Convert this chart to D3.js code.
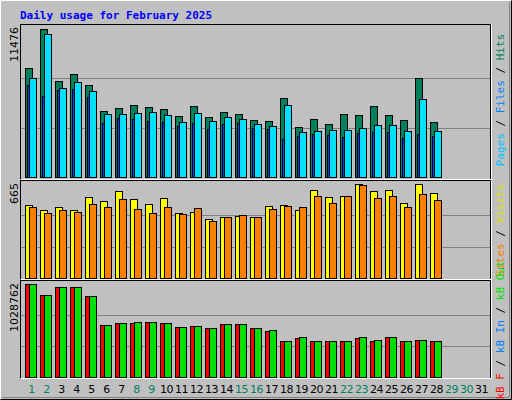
<!DOCTYPE html><html><head><meta charset="utf-8">
<script src="https://cdn.jsdelivr.net/npm/d3@7"></script>
<style>body{margin:0;background:#fff}</style></head><body><svg id="c" width="512" height="400"></svg>
<script>
const days=d3.range(1,32);
const weekend=[1,2,8,9,15,16,22,23,29,30];
const hits=[8424,11476,7407,7955,7172,5138,5373,5607,5451,5294,4747,5529,4668,5060,4903,4434,4355,6155,3886,4512,4121,4903,4825,5529,4825,4434,7642,4277];
const files=[7642,11111,6938,7329,6703,4903,4903,4981,5060,4825,4277,4981,4355,4668,4512,4121,3964,5607,3495,3573,3651,3651,3808,4042,4042,3573,6077,3573];
const pages=[7120,6260,6729,6807,6181,4225,4538,4460,4381,4303,3964,4225,3756,4147,4225,3834,3756,2973,3208,3364,3286,3130,3443,3521,3521,3051,3364,3208];
const visits=[518,483,504,483,574,546,616,560,525,567,462,469,420,434,441,434,511,518,483,623,574,581,665,616,623,532,665,602];
const sites=[504,462,483,469,525,504,560,490,462,504,455,497,406,434,448,434,490,511,504,581,532,581,658,567,581,504,595,553];
const kbF=[1028762,904860,994970,994970,893600,578200,600700,600700,612000,600700,555700,566900,544400,589500,589500,544400,510600,398000,431800,398000,398000,398000,431800,398000,443000,398000,409200,398000];
const kbOut=[1028762,904860,994970,994970,893600,578200,600700,612000,612000,600700,555700,566900,544400,589500,589500,544400,521900,398000,443000,398000,398000,398000,443000,409200,443000,398000,409200,398000];
const svg=d3.select("#c");
svg.append("rect").attr("width",512).attr("height",400).attr("fill","#c0c0c0");
svg.append("path").attr("d","M0.5,399.5V0.5H511.5").attr("stroke","#fff").attr("fill","none");
svg.append("path").attr("d","M0.5,399.5H511.5V0.5").attr("stroke","#000").attr("fill","none");
svg.append("path").attr("d","M2.5,397.5H509.5V2.5").attr("stroke","#808080").attr("fill","none");
svg.append("text").attr("x",20).attr("y",19).text("Daily usage for February 2025")
 .attr("font-family","DejaVu Sans Mono").attr("font-weight","bold").attr("font-size",11).attr("fill","#0000ff");
const x=d3.scaleBand().domain(days).range([25,490]).paddingInner(0);
const panels=[
 {top:29,base:177,pt:24,pb:179,max:11476,label:"11476",series:[[hits,"#00805c",0],[pages,"#0040ff",2],[files,"#00e0ff",4]],
  legend:[["Pages","#00c0ff"],[" / ","#000"],["Files","#0080ff"],[" / ","#000"],["Hits","#00805c"]],ly:100},
 {top:184,base:278,pt:180,pb:279,max:665,label:"665",series:[[visits,"#ffff00",0],[sites,"#ff8000",4]],
  legend:[["Sites","#ff8000"],[" / ","#000"],["Visits","#e0e000"]],ly:230},
 {top:284,base:377,pt:280,pb:378,max:1028762,label:"1028762",series:[[kbF,"#ff0000",0],[kbOut,"#00e000",4]],
  legend:[["kB F","#ff0000"],[" / ","#000"],["kB In","#0080ff"],[" / ","#000"],["kB Out","#00e000"]],ly:330}
];
panels.forEach(p=>{
 svg.append("rect").attr("x",20.5).attr("y",p.pt+0.5).attr("width",470).attr("height",p.pb-p.pt).attr("fill","#c0c0c0").attr("stroke","#000");
 svg.append("path").attr("d",`M20.5,${p.pb+0.5}H491.5V${p.pt+0.5}`).attr("stroke","#fff").attr("fill","none");
 const y=d3.scaleLinear().domain([0,p.max]).range([p.base,p.top]);
 [1/3,2/3].forEach(f=>svg.append("line").attr("x1",21).attr("x2",490).attr("y1",Math.round(y(p.max*f))+0.5).attr("y2",Math.round(y(p.max*f))+0.5).attr("stroke","#808080"));
 p.series.forEach(([arr,col,off])=>{
  svg.append("g").selectAll("rect").data(arr).join("rect")
   .attr("x",(d,i)=>x(i+1)+off+0.5).attr("y",d=>Math.round(y(d))+0.5)
   .attr("width",7).attr("height",d=>p.base-Math.round(y(d))).attr("fill",col).attr("stroke","#000");
 });
 svg.append("text").attr("transform",`translate(18,${p.pt+3}) rotate(-90)`).attr("text-anchor","end")
  .attr("font-family","DejaVu Sans").attr("font-size",11).text(p.label);
 const t=svg.append("text").attr("transform",`translate(504,${p.ly}) rotate(-90)`).attr("text-anchor","middle")
  .attr("font-family","DejaVu Sans Mono").attr("font-size",11);
 p.legend.forEach(([s,c])=>t.append("tspan").attr("fill",c).text(s));
});
svg.append("g").selectAll("text").data(days).join("text")
 .attr("x",d=>x(d)+x.bandwidth()/2-1).attr("y",393).attr("text-anchor","middle")
 .attr("font-family","DejaVu Sans").attr("font-size",11).attr("letter-spacing","-0.5")
 .attr("fill",d=>weekend.includes(d)?"#008060":"#000").text(d=>d);
</script></body></html>
